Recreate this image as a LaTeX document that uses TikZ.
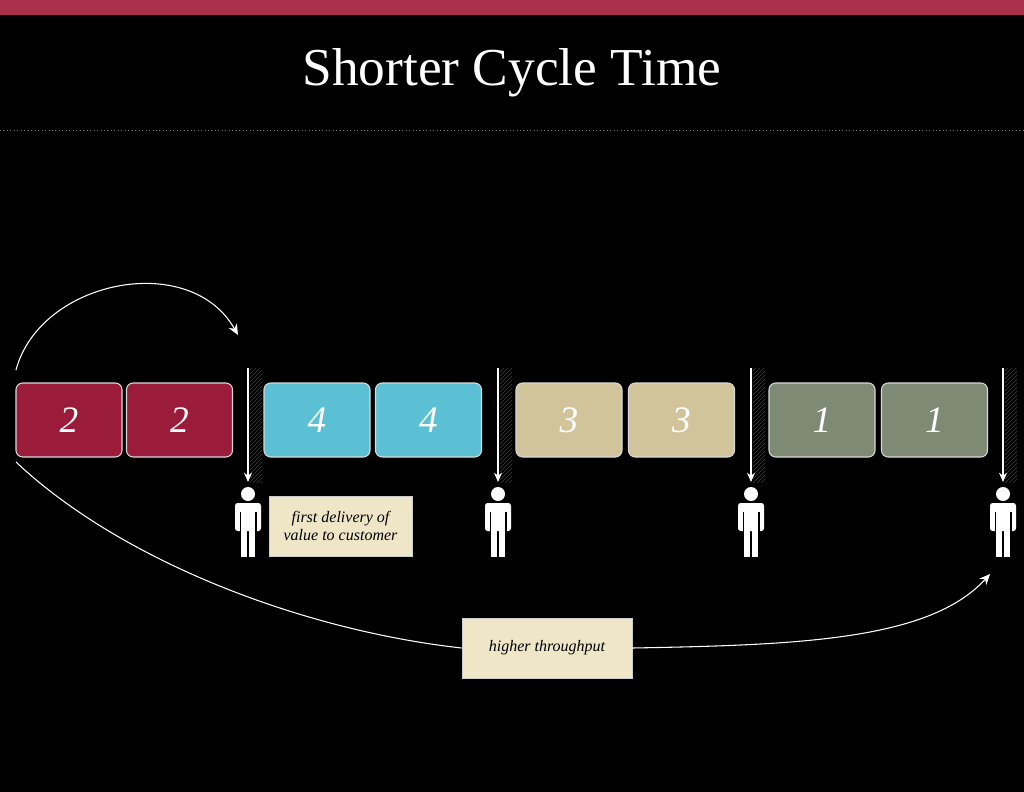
\documentclass[tikz,border=0pt]{standalone}
\usepackage{fontspec}
\setmainfont{Liberation Serif}
\usetikzlibrary{arrows.meta,patterns}
\definecolor{topred}{HTML}{A8304A}
\definecolor{cred}{HTML}{9B1B3B}
\definecolor{ccyan}{HTML}{5BC0D4}
\definecolor{ctan}{HTML}{D2C49A}
\definecolor{colive}{HTML}{7F8A74}
\definecolor{cnote}{HTML}{EFE6C8}
\tikzset{
  blk/.style={draw=white!85!black,line width=0.8pt,rounded corners=5pt,minimum width=79.5pt,minimum height=55.5pt,inner sep=0pt,text=white,font=\itshape\fontsize{28}{28}\selectfont},
  note/.style={fill=cnote,draw=white!80!black,line width=0.5pt,inner sep=0pt,font=\itshape\fontsize{12}{14}\selectfont,align=center,text=black},
  varr/.style={draw=white,line width=0.8pt,-{Stealth[length=7pt,width=6pt]}},
  carr/.style={draw=white,line width=0.8pt,-{Stealth[length=8pt,width=7pt]}},
}
\newcommand{\person}[2]{%
  \fill[white] (#1,#2) circle (7);
  \fill[white,rounded corners=2pt] (#1-13,#2+9) rectangle (#1+13,#2+37);
  \fill[white] (#1-7,#2+30) rectangle (#1-0.8,#2+63);
  \fill[white] (#1+0.8,#2+30) rectangle (#1+7,#2+63);
  \fill[black] (#1-8.5,#2+18) rectangle (#1-7,#2+38);
  \fill[black] (#1+7,#2+18) rectangle (#1+8.5,#2+38);
}
\begin{document}
\begin{tikzpicture}[x=0.75pt,y=-0.75pt]
\fill[black] (0,0) rectangle (1024,792);
\useasboundingbox (0,0) rectangle (1024,792);
\fill[topred] (0,0) rectangle (1024,15);
\node[text=white,font=\fontsize{40}{40}\selectfont] (title) at (512,73) {Shorter Cycle Time};
\draw[gray,dotted,line width=0.6pt] (0,130) -- (1024,130);
% hatched strips
\foreach \x in {248,498,751,1003}{
  \fill[pattern=north east lines,pattern color=white!25!black] (\x+2,368) rectangle (\x+14,482);
}
% blocks
\node[blk,fill=cred] (r1) at (69,420) {2};
\node[blk,fill=cred] (r2) at (179.5,420) {2};
\node[blk,fill=ccyan] (c1) at (317,420) {4};
\node[blk,fill=ccyan] (c2) at (428.5,420) {4};
\node[blk,fill=ctan] (t1) at (569,420) {3};
\node[blk,fill=ctan] (t2) at (681.5,420) {3};
\node[blk,fill=colive] (o1) at (822,420) {1};
\node[blk,fill=colive] (o2) at (934.5,420) {1};
% arrows
\foreach \x/\n in {248/a,498/b,751/c,1003/d}{
  \coordinate (s\n) at (\x,368);
  \coordinate (e\n) at (\x,482);
  \draw[varr] (s\n) -- (e\n);
  \person{\x}{494}
}
\node[note,minimum width=107pt,minimum height=45pt] (n1) at (340.5,526) {first delivery of\\value to customer};
\node[note,minimum width=127.5pt,minimum height=45pt] (n2) at (547,648) {higher throughput};
\coordinate (ta) at (16,370);
\coordinate (tb) at (238,335);
\draw[carr] (ta) .. controls (40,280) and (190,250) .. (tb);
\coordinate (ba) at (16,462);
\coordinate (bb) at (990,574);
\draw[white,line width=0.8pt] (ba) .. controls (120,560) and (300,630) .. (n2.west);
\draw[carr] (n2.east) .. controls (800,645) and (930,640) .. (bb);
\end{tikzpicture}
\end{document}
